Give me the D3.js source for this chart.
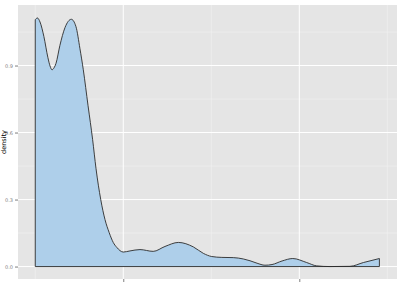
<!DOCTYPE html>
<html><head><meta charset="utf-8">
<script src="https://cdn.jsdelivr.net/npm/d3@7"></script>
<style>body{margin:0;background:#fff}svg{display:block}</style>
</head><body>
<script>
// density curve samples (x value, density)
const xs = [0,1.2,2.7,4.9,7.2,8.4,9.5,10.7,11.8,14,16.9,20.5,23.1,25.4,27.3,30,32.6,34.5,37.2,39.6,42,44.3,46.3,50,53.8,59.5,67,73.7,81.3,89.8,95.5,100.2,106,112.5,118.2,122,126,130.5,134.5,140.2,146.3,154.2,159.9,167.4,178.8,186.4,195.5];
const density = [1.105,1.113,1.095,1.03,0.935,0.898,0.881,0.89,0.91,0.99,1.07,1.107,1.075,0.975,0.881,0.72,0.568,0.44,0.30,0.211,0.152,0.108,0.086,0.065,0.07,0.076,0.068,0.09,0.108,0.088,0.059,0.045,0.041,0.04,0.034,0.026,0.015,0.006,0.009,0.025,0.036,0.018,0.003,0.0,0.001,0.018,0.036];
const yTicks = [0, 0.3, 0.6, 0.9];
const yMinor = [0.15, 0.45, 0.75, 1.05];
const xTicks = [50, 150];
const xMinor = [0, 100, 200];

const W = 400, H = 284;
const m = {l:18, r:3, t:5, b:5};
const svg = d3.select("body").append("svg").attr("width", W).attr("height", H);

const x = d3.scaleLinear().domain([-9.8, 205.5]).range([m.l, W - m.r]);
const y = d3.scaleLinear().domain([-0.0557, 1.171]).range([H - m.b, m.t]);

svg.append("rect").attr("x", m.l).attr("y", m.t)
  .attr("width", W - m.r - m.l).attr("height", H - m.b - m.t).attr("fill", "#E5E5E5");

const g = svg.append("g");
g.selectAll(".ymin").data(yMinor).join("line")
  .attr("x1", m.l).attr("x2", W - m.r).attr("y1", d => y(d)).attr("y2", d => y(d))
  .attr("stroke", "#F2F2F2").attr("stroke-width", 0.6);
g.selectAll(".xmin").data(xMinor).join("line")
  .attr("y1", m.t).attr("y2", H - m.b).attr("x1", d => x(d)).attr("x2", d => x(d))
  .attr("stroke", "#F2F2F2").attr("stroke-width", 0.6);
g.selectAll(".ymaj").data(yTicks).join("line")
  .attr("x1", m.l).attr("x2", W - m.r).attr("y1", d => y(d)).attr("y2", d => y(d))
  .attr("stroke", "#FFFFFF").attr("stroke-width", 1);
g.selectAll(".xmaj").data(xTicks).join("line")
  .attr("y1", m.t).attr("y2", H - m.b).attr("x1", d => x(d)).attr("x2", d => x(d))
  .attr("stroke", "#FFFFFF").attr("stroke-width", 1);

const pts = xs.map((v, i) => [v, density[i]]);
const lineGen = d3.line().x(d => x(d[0])).y(d => y(d[1])).curve(d3.curveMonotoneX);
const topPath = lineGen(pts);
const areaPath = topPath + `L${x(xs[xs.length-1])},${y(0)}L${x(xs[0])},${y(0)}Z`;
svg.append("path").attr("d", areaPath)
  .attr("fill", "#AECFEA").attr("stroke", "#2b2b2b").attr("stroke-width", 0.9)
  .attr("stroke-linejoin", "round");

// axes
const ya = d3.axisLeft(y).tickValues(yTicks).tickFormat(d3.format(".1f")).tickSize(3).tickPadding(2);
const yg = svg.append("g").attr("transform", `translate(${m.l},0)`).call(ya);
yg.select(".domain").remove();
yg.selectAll("line").attr("stroke", "#7F7F7F");
yg.selectAll("text").attr("fill", "#7F7F7F").style("font-family", "DejaVu Sans").style("font-size", "5px");

const xa = d3.axisBottom(x).tickValues(xTicks).tickFormat("").tickSize(3);
const xg = svg.append("g").attr("transform", `translate(0,${H - m.b})`).call(xa);
xg.select(".domain").remove();
xg.selectAll("line").attr("stroke", "#7F7F7F");

svg.append("text").attr("transform", `translate(6,${(m.t + H - m.b)/2}) rotate(-90)`)
  .attr("text-anchor", "middle").style("font-family", "DejaVu Sans").style("font-size", "6.5px")
  .attr("fill", "#000").text("density");
</script>
</body></html>
